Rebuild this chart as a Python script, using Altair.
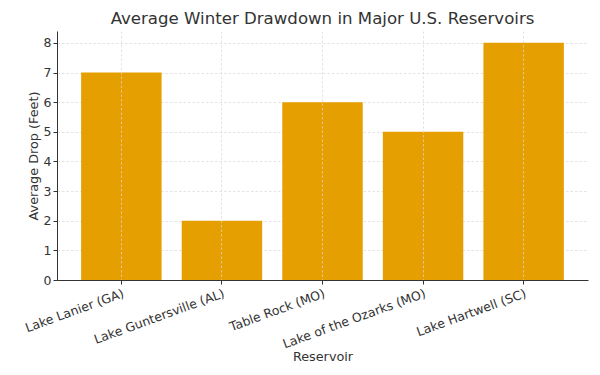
import altair as alt
import pandas as pd

reservoirs = ["Lake Lanier (GA)", "Lake Guntersville (AL)", "Table Rock (MO)",
              "Lake of the Ozarks (MO)", "Lake Hartwell (SC)"]
drops = [7, 2, 6, 5, 8]

df = pd.DataFrame({"Reservoir": reservoirs, "Drop": drops})

FONT = "DejaVu Sans"
TXT = "#333333"

chart = alt.Chart(df).mark_bar(color="#E69F00").encode(
    x=alt.X("Reservoir:N", sort=reservoirs, title="Reservoir",
            scale=alt.Scale(paddingInner=0.2, paddingOuter=0.24),
            axis=alt.Axis(labelAngle=340, labelAlign="right", labelBaseline="top",
                          grid=True, zindex=1, labelPadding=3, titlePadding=0)),
    y=alt.Y("Drop:Q", title="Average Drop (Feet)",
            scale=alt.Scale(domain=[0, 8.4], nice=False),
            axis=alt.Axis(values=list(range(0, 9)), grid=True, titlePadding=3)),
).properties(
    width=531, height=249,
    title=alt.Title("Average Winter Drawdown in Major U.S. Reservoirs",
                    fontSize=16.6, font=FONT, fontWeight="normal", color=TXT, offset=3),
    autosize=alt.AutoSizeParams(type="none"),
    padding={"left": 49, "top": 23, "right": 4, "bottom": 90},
).configure_view(stroke=None).configure_axis(
    labelFont=FONT, titleFont=FONT, labelFontSize=12.5, titleFontSize=12.8,
    labelColor=TXT, titleColor=TXT, titleFontWeight="normal",
    domainColor=TXT, tickColor=TXT, tickSize=4,
    gridColor="#d9d9d9", gridDash=[2.5, 2], gridWidth=0.7,
)

chart.save("out.html", embed_options={"renderer": "svg", "actions": False})
